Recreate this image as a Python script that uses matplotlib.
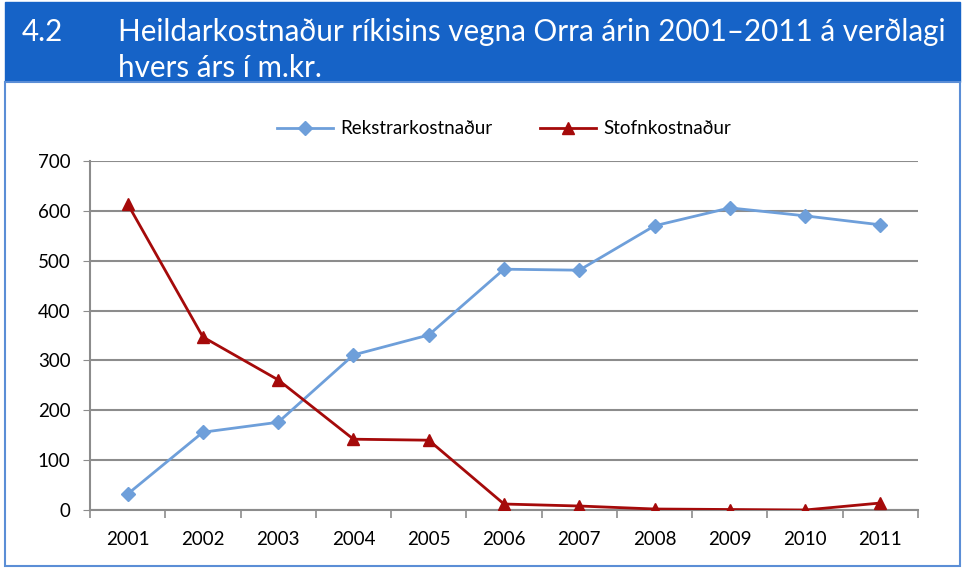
import matplotlib.pyplot as plt
from matplotlib.patches import Rectangle

plt.rcParams['font.family'] = ['Lato', 'DejaVu Sans']

years = ['2001', '2002', '2003', '2004', '2005', '2006', '2007', '2008', '2009', '2010', '2011']
rekstur = [32, 156, 176, 311, 351, 483, 481, 570, 606, 590, 572]
stofn = [614, 347, 261, 142, 140, 12, 8, 2, 1, 0, 14]

title_num = "4.2"
title_line1 = "Heildarkostnaður ríkisins vegna Orra árin 2001–2011 á verðlagi"
title_line2 = "hvers árs í m.kr."

blue_bar = '#1663C7'
blue_line = '#6E9FDA'
red_line = '#A50A0A'
grid_col = '#8C8C8C'

fig = plt.figure(figsize=(9.66, 5.7), dpi=100)

# title bar and frame
fig.patches.append(Rectangle((5 / 966, 1 - 82 / 570), 955 / 966, 80 / 570,
                             transform=fig.transFigure, color=blue_bar, zorder=0))
fig.patches.append(Rectangle((5 / 966, 1 - 566 / 570), 955 / 966, 484 / 570,
                             transform=fig.transFigure, facecolor='white',
                             edgecolor='#5B8ED6', lw=1.5, zorder=0))
fig.text(22 / 966, 1 - 32 / 570, title_num, color='white', fontsize=21.3, va='center')
fig.text(118 / 966, 1 - 32 / 570, title_line1, color='white', fontsize=21.3, va='center')
fig.text(118 / 966, 1 - 68 / 570, title_line2, color='white', fontsize=21.3, va='center')

ax = fig.add_axes([90 / 966, 1 - 510 / 570, 828 / 966, 349 / 570])
ax.set_zorder(2)
ax.patch.set_alpha(0)
x = range(len(years))
ax.plot(x, rekstur, color=blue_line, lw=2, marker='D', ms=7, label='Rekstrarkostnaður', zorder=3)
ax.plot(x, stofn, color=red_line, lw=2, marker='^', ms=9, label='Stofnkostnaður', zorder=3)

ax.set_xlim(-0.5, len(years) - 0.5)
ax.set_ylim(0, 700)
ax.set_yticks(range(0, 701, 100))
ax.set_xticks(list(x))
ax.set_xticklabels(years)
ax.tick_params(axis='x', length=0, labelsize=13.5, pad=15)
ax.tick_params(axis='y', length=5, color=grid_col, labelsize=13.5, pad=9)
# category boundary ticks
ax.set_xticks([i - 0.5 for i in range(len(years) + 1)], minor=True)
ax.tick_params(axis='x', which='minor', length=6, color=grid_col, width=1.2)
ax.yaxis.grid(True, color=grid_col, lw=1.5)
ax.set_axisbelow(True)
for s in ['top', 'right']:
    ax.spines[s].set_visible(False)
ax.spines['left'].set_color(grid_col)
ax.spines['bottom'].set_color(grid_col)
ax.spines['left'].set_linewidth(1.5)
ax.spines['bottom'].set_linewidth(1.5)

ax.legend(loc='lower center', bbox_to_anchor=(0.5, 1.02), ncol=2, frameon=False,
          fontsize=13.5, handlelength=3, handletextpad=0.4, columnspacing=2.5)

fig.savefig('out.png', dpi=100)
